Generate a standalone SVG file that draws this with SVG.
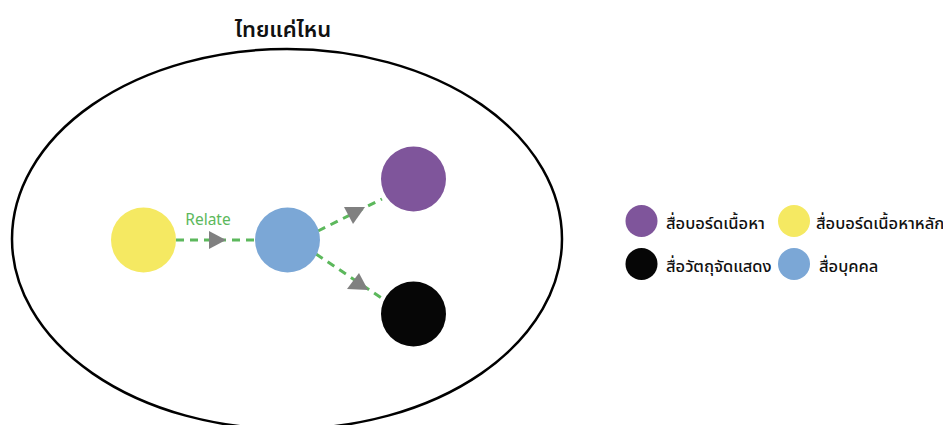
<svg xmlns="http://www.w3.org/2000/svg" width="943" height="425" viewBox="0 0 943 425">
<style>
.th{font-family:"Noto Sans Thai","Noto Sans Thai UI","Leelawadee UI","Tahoma","Noto Sans","DejaVu Sans",sans-serif;fill:#111}
.lg{font-size:16.5px;font-weight:500}
.conn{stroke:#5cb85c;stroke-width:3;stroke-dasharray:8 6;fill:none}
.arr{fill:#808080}
</style>
<rect width="943" height="425" fill="#fff"/>
<text class="th" x="283" y="37" font-size="22" text-anchor="middle" font-weight="600">ไทยแค่ไหน</text>
<ellipse cx="287" cy="239" rx="275" ry="190" fill="none" stroke="#000" stroke-width="2.5"/>
<g id="connectors">
<line class="conn" x1="176" y1="240" x2="255" y2="240"/>
<line class="conn" x1="318" y1="231" x2="382" y2="199"/>
<line class="conn" x1="316" y1="254" x2="386" y2="301"/>
<polygon class="arr" points="209,231 226,240 209,249"/>
<polygon class="arr" points="344,207 365,207 353,224"/>
<polygon class="arr" points="359,273 347,289 368,290"/>
<text x="208" y="225" font-family="Noto Sans, sans-serif" font-size="15.5" fill="#5cb85c" text-anchor="middle">Relate</text>
</g>
<g id="n-yellow"><circle cx="143.5" cy="240" r="32.5" fill="#f5e962"/></g>
<g id="n-blue"><circle cx="287.5" cy="240" r="32.5" fill="#7ba7d6"/></g>
<g id="n-purple"><circle cx="413.5" cy="179" r="32.5" fill="#7f559b"/></g>
<g id="n-black"><circle cx="413.5" cy="314" r="32.5" fill="#060606"/></g>
<g id="legend">
<circle cx="641.5" cy="221" r="16" fill="#7f559b"/>
<text class="th lg" x="666" y="229">สื่อบอร์ดเนื้อหา</text>
<circle cx="794" cy="221" r="16" fill="#f5e962"/>
<text class="th lg" x="816" y="229">สื่อบอร์ดเนื้อหาหลัก</text>
<circle cx="641.5" cy="264" r="16" fill="#060606"/>
<text class="th lg" x="666" y="272">สื่อวัตถุจัดแสดง</text>
<circle cx="794" cy="264" r="16" fill="#7ba7d6"/>
<text class="th lg" x="819" y="272">สื่อบุคคล</text>
</g>
</svg>
